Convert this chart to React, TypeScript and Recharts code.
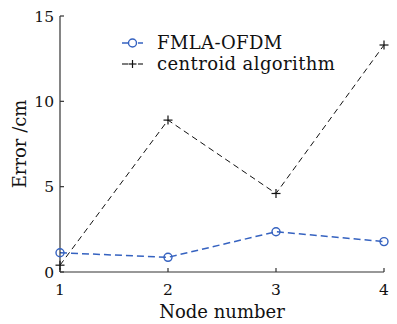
import React from "react";
import {
  LineChart,
  Line,
  XAxis,
  YAxis,
  Legend,
} from "recharts";

const nodes = [1, 2, 3, 4];
const fmlaOfdm = [1.13, 0.86, 2.36, 1.78];
const centroid = [0.4, 8.9, 4.6, 13.3];
const yTicks = [0, 5, 10, 15];

const BLUE = "#3562c0";
const AXIS = "#333";
const serif = "DejaVu Serif";

const data = nodes.map((n, i) => ({
  node: n,
  fmla: fmlaOfdm[i],
  centroid: centroid[i],
}));

const CircleDot = (props: any) => {
  const { cx, cy } = props;
  if (cx == null || cy == null) return null;
  return <circle cx={cx} cy={cy} r={4} fill="none" stroke={BLUE} strokeWidth={1.4} />;
};

const PlusDot = (props: any) => {
  const { cx, cy } = props;
  if (cx == null || cy == null) return null;
  return (
    <g stroke="#111" strokeWidth={1.2}>
      <line x1={cx - 4.5} y1={cy} x2={cx + 4.5} y2={cy} />
      <line x1={cx} y1={cy - 4.5} x2={cx} y2={cy + 4.5} />
    </g>
  );
};

const tickText = { fontFamily: serif, fontSize: 15.5 };

const XTick = (props: any) => {
  const { x, y, payload } = props;
  return (
    <text x={x} y={y} dy="0.71em" textAnchor="middle" fill="#111" style={tickText}>
      {payload.value}
    </text>
  );
};

const YTick = (props: any) => {
  const { x, y, payload } = props;
  return (
    <text x={x} y={y} dy="0.36em" textAnchor="end" fill="#111" style={tickText}>
      {payload.value}
    </text>
  );
};

const LegendBox = (props: any) => {
  const items = props.payload || [];
  return (
    <svg width={260} height={44}>
      {items.map((it: any, i: number) => {
        const isBlue = it.dataKey === "fmla";
        const c = isBlue ? BLUE : "#111";
        const cy = 11 + i * 21;
        return (
          <g key={it.dataKey}>
            <line x1={0} y1={cy} x2={6} y2={cy} stroke={c} strokeWidth={isBlue ? 1.5 : 1.1} />
            <line x1={16} y1={cy} x2={21} y2={cy} stroke={c} strokeWidth={isBlue ? 1.5 : 1.1} />
            {isBlue ? (
              <circle cx={10.5} cy={cy} r={4} fill="none" stroke={BLUE} strokeWidth={1.4} />
            ) : (
              <g stroke="#111" strokeWidth={1.2}>
                <line x1={6.5} y1={cy} x2={14.5} y2={cy} />
                <line x1={10.5} y1={cy - 4} x2={10.5} y2={cy + 4} />
              </g>
            )}
            <text
              x={35}
              y={cy}
              dy="0.36em"
              fill="#111"
              style={{ fontFamily: serif, fontSize: 18, letterSpacing: 0.4 }}
            >
              {it.value}
            </text>
          </g>
        );
      })}
    </svg>
  );
};

export default function App() {
  return (
    <div style={{ width: 397, height: 324, background: "#fff", fontFamily: serif }}>
      <style>{"body{margin:0}"}</style>
      <LineChart
        width={397}
        height={324}
        data={data}
        margin={{ top: 16, right: 13, left: 0, bottom: 0 }}
        style={{ fontFamily: serif }}
      >
        <XAxis
          dataKey="node"
          type="number"
          domain={[1, 4]}
          ticks={nodes}
          height={52}
          stroke={AXIS}
          strokeWidth={1.2}
          tickSize={-4}
          tickMargin={16}
          tick={<XTick />}
          label={{
            value: "Node number",
            position: "insideBottom",
            offset: 6,
            fill: "#111",
            fontSize: 18,
            fontFamily: serif,
          }}
        />
        <XAxis
          xAxisId="top"
          orientation="top"
          type="number"
          domain={[1, 4]}
          height={0}
          tick={false}
          tickLine={false}
          stroke={AXIS}
          strokeWidth={1.2}
        />
        <YAxis
          type="number"
          domain={[0, 15]}
          ticks={yTicks}
          width={60}
          stroke={AXIS}
          strokeWidth={1.2}
          tickSize={-4}
          tickMargin={10}
          tick={<YTick />}
          label={{
            value: "Error /cm",
            angle: -90,
            position: "center",
            dx: -10,
            fill: "#111",
            fontSize: 18,
            fontFamily: serif,
          }}
        />
        <YAxis
          yAxisId="right"
          orientation="right"
          type="number"
          domain={[0, 15]}
          width={0}
          tick={false}
          tickLine={false}
          stroke={AXIS}
          strokeWidth={1.2}
        />
        <Legend
          layout="vertical"
          align="center"
          verticalAlign="middle"
          content={<LegendBox />}
          wrapperStyle={{ left: 122, top: 32, width: 260, height: 44 }}
        />
        <Line
          dataKey="fmla"
          name="FMLA-OFDM"
          stroke={BLUE}
          strokeWidth={1.5}
          strokeDasharray="7 4"
          dot={<CircleDot />}
          activeDot={false}
          isAnimationActive={false}
        />
        <Line
          dataKey="centroid"
          name="centroid algorithm"
          stroke="#111"
          strokeWidth={1}
          strokeDasharray="6 4"
          dot={<PlusDot />}
          activeDot={false}
          isAnimationActive={false}
        />
      </LineChart>
    </div>
  );
}
